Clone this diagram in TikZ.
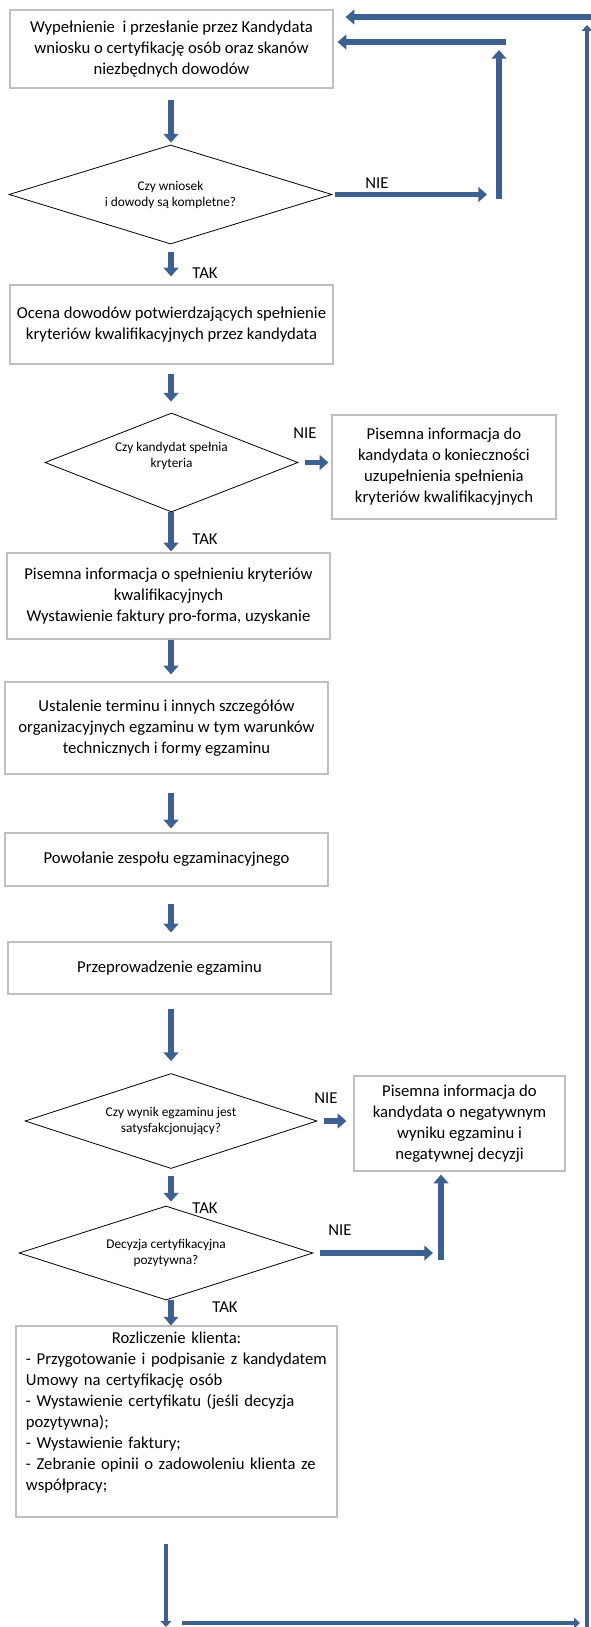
\documentclass[tikz,border=0pt]{standalone}
\usepackage{fontspec}
\setmainfont{Carlito}
\usepackage{xcolor}
\usetikzlibrary{positioning,arrows.meta,shapes.geometric}
\definecolor{flowblue}{RGB}{60,96,144}
\definecolor{boxgray}{RGB}{191,191,191}
\newcommand{\mainfnt}{\fontsize{12.5pt}{15.75pt}\selectfont}
\newcommand{\decfnt}{\fontsize{10pt}{12pt}\selectfont}

\begin{document}
\begin{tikzpicture}[
  x=0.75pt, y=-0.75pt,
  box/.style={draw=boxgray, line width=0.9pt, fill=white, align=center, font=\mainfnt, inner sep=2pt},
  dec/.style={diamond, draw=black, line width=0.6pt, align=center, font=\decfnt, inner sep=0pt, aspect=2.5},
  lbl/.style={font=\mainfnt, inner sep=0pt},
  arr/.style={draw=flowblue, line width=4pt, -{Triangle[length=6.5pt, width=11pt]}},
  arrs/.style={draw=flowblue, line width=3.5pt, -{Triangle[length=4.5pt, width=8pt]}}]
\useasboundingbox (0,0) rectangle (591,1627);
\clip (0,0) rectangle (591,1627);
\node[box, minimum width=242.25pt, minimum height=58.5pt] (wniosek) at (171.5,49) {Wypełnienie\ \ i przesłanie przez Kandydata\\wniosku o certyfikację osób oraz skanów\\niezbędnych dowodów};
\node[dec, minimum width=242.25pt, minimum height=74.25pt] (kompletne) at (170.5,194.5) {Czy wniosek\\i dowody są kompletne?};
\node[box, minimum width=242.25pt, minimum height=59.25pt] (ocena) at (171.5,324.5) {Ocena dowodów potwierdzających spełnienie\\kryteriów kwalifikacyjnych przez kandydata};
\node[dec, minimum width=189.75pt, minimum height=74.25pt] (kryteria) at (171.5,462.5) {Czy kandydat spełnia\\kryteria\\\mbox{}};
\node[box, minimum width=168pt, minimum height=78pt] (uzupelnienie) at (444,467) {Pisemna informacja do\\kandydata o konieczności\\uzupełnienia spełnienia\\kryteriów kwalifikacyjnych};
\node[box, minimum width=242.25pt, minimum height=64.5pt] (spelnienie) at (168.5,596) {Pisemna informacja o spełnieniu kryteriów\\kwalifikacyjnych\\Wystawienie faktury pro-forma, uzyskanie};
\node[box, minimum width=242.25pt, minimum height=69pt] (termin) at (166.5,728) {Ustalenie terminu i innych szczegółów\\organizacyjnych egzaminu w tym warunków\\technicznych i formy egzaminu};
\node[box, minimum width=242.25pt, minimum height=39.75pt] (zespol) at (166.5,859.5) {Powołanie zespołu egzaminacyjnego};
\node[box, minimum width=242.25pt, minimum height=39pt] (egzamin) at (169.5,968) {Przeprowadzenie egzaminu};
\node[dec, minimum width=219pt, minimum height=71.25pt] (wynik) at (171,1121) {Czy wynik egzaminu jest\\satysfakcjonujący?};
\node[box, minimum width=158.25pt, minimum height=71.25pt] (negatywna) at (459.5,1123.5) {Pisemna informacja do\\kandydata o negatywnym\\wyniku egzaminu i\\negatywnej decyzji};
\node[dec, minimum width=220.5pt, minimum height=70.5pt] (decyzja) at (166,1253) {Decyzja certyfikacyjna\\pozytywna?};
\node[box, minimum height=143.25pt, text width=225.75pt, align=left, inner xsep=7.5pt] (rozliczenie) at (176.5,1421.5) {\makebox[\linewidth]{Rozliczenie klienta:}\\- Przygotowanie i podpisanie z kandydatem\\Umowy na certyfikację osób\\- Wystawienie certyfikatu (jeśli decyzja\\pozytywna);\\- Wystawienie faktury;\\- Zebranie opinii o zadowoleniu klienta ze\\współpracy;\\\mbox{}};
\node[lbl] (tak1) at (205,273) {TAK};
\node[lbl] (nie1) at (377,183) {NIE};
\node[lbl] (nie2) at (305,433) {NIE};
\node[lbl] (tak2) at (205,539) {TAK};
\node[lbl] (nie3) at (326,1098) {NIE};
\node[lbl] (tak3) at (205,1208) {TAK};
\node[lbl] (nie4) at (340,1230) {NIE};
\node[lbl] (tak4) at (225,1307) {TAK};
\coordinate (col) at (171,0);
\coordinate (nie1end) at (487,197);
\coordinate (petla) at (499,199);
\coordinate (petlagora) at (499,50);
\coordinate (powrot) at (506,42);
\coordinate (nie4end) at (433,1253);
\coordinate (zbieg) at (441,1260);
\coordinate (dol) at (166,1627);
\coordinate (dolL) at (182,1623);
\coordinate (dolR) at (580,1623);
\coordinate (prawydol) at (587,1627);
\coordinate (prawygora) at (587,25);
\coordinate (gora) at (591,17);
\draw[arr, shorten <=8.25pt, shorten >=1.5pt] (wniosek.south -| col) -- (kompletne.north -| col);
\draw[arr, shorten <=6pt, shorten >=6pt] (kompletne.south -| col) -- (ocena.north -| col);
\draw[arr, shorten <=6.75pt, shorten >=8.25pt] (ocena.south -| col) -- (kryteria.north -| col);
\draw[arr, shorten >=0.75pt] (kryteria.south -| col) -- (spelnienie.north -| col);
\draw[arr, shorten >=5.25pt] (spelnienie.south -| col) -- (termin.north -| col);
\draw[arr, shorten <=13.5pt, shorten >=3pt] (termin.south -| col) -- (zespol.north -| col);
\draw[arr, shorten <=12.75pt, shorten >=6.75pt] (zespol.south -| col) -- (egzamin.north -| col);
\draw[arr, shorten <=10.5pt, shorten >=9pt] (egzamin.south -| col) -- (wynik.north -| col);
\draw[arr, shorten <=5.25pt, shorten >=3pt] (wynik.south -| col) -- (decyzja.north -| col);
\draw[arr] (decyzja.south -| col) -- (rozliczenie.north -| col);
\draw[arr, shorten <=2.25pt] (kompletne.east) -- (kompletne.east -| nie1end);
\draw[arr] (petla) -- (petlagora);
\draw[arr, shorten >=3pt] (powrot) -- (powrot -| wniosek.east);
\draw[arr, shorten <=5.25pt, shorten >=2.25pt] (kryteria.east) -- (kryteria.east -| uzupelnienie.west);
\draw[arr, shorten <=5.25pt, shorten >=5.25pt] (wynik.east) -- (wynik.east -| negatywna.west);
\draw[arr, shorten <=5.25pt] (decyzja.east) -- (decyzja.east -| nie4end);
\draw[arr, shorten >=2.25pt] (zbieg) -- (zbieg |- negatywna.south);
\draw[arrs, shorten <=19.5pt] (rozliczenie.south -| dol) -- (dol);
\draw[arrs] (dolL) -- (dolR);
\draw[arrs, line width=3pt] (prawydol) -- (prawygora);
\draw[arr, shorten >=9pt] (gora) -- (gora -| wniosek.east);
\end{tikzpicture}
\end{document}
